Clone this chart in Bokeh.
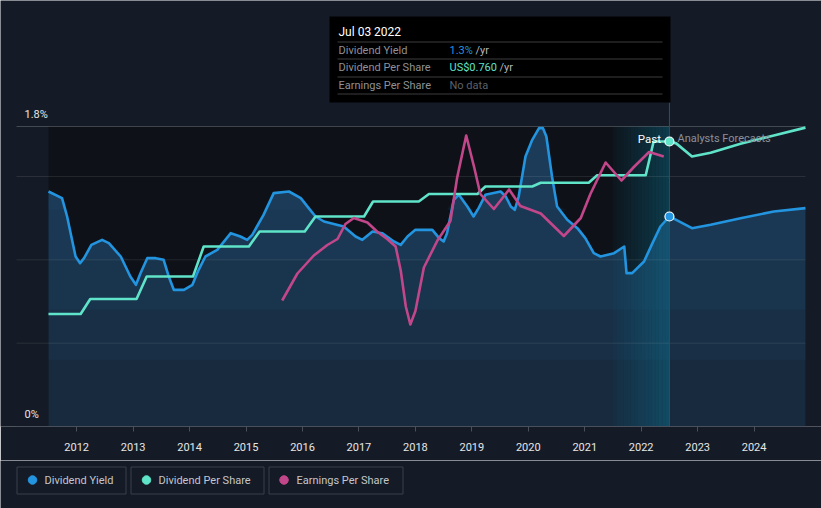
import numpy as np
from bokeh.plotting import figure
from bokeh.models import Range1d, FixedTicker, Label
from bokeh.layouts import column
from bokeh.embed import file_html
from bokeh.resources import INLINE
from bokeh.core.properties import value

# ---------------- data (decimal years) ----------------
yield_t = [2011.50, 2011.74, 2011.83, 2011.98, 2012.06, 2012.13, 2012.26, 2012.45, 2012.57, 2012.78,
           2012.95, 2013.05, 2013.13, 2013.25, 2013.40, 2013.54, 2013.63, 2013.72, 2013.90, 2014.05,
           2014.16, 2014.28, 2014.49, 2014.73, 2014.90, 2015.02, 2015.11, 2015.31, 2015.49, 2015.76,
           2015.97, 2016.11, 2016.23, 2016.38, 2016.73, 2016.94, 2017.06, 2017.24, 2017.41, 2017.62,
           2017.74, 2017.86, 2018.00, 2018.30, 2018.42, 2018.50, 2018.56, 2018.68, 2018.77, 2018.92,
           2019.03, 2019.12, 2019.24, 2019.51, 2019.60, 2019.69, 2019.76, 2019.83, 2019.95, 2020.07,
           2020.19, 2020.26, 2020.32, 2020.42, 2020.51, 2020.69, 2020.87, 2021.01, 2021.16, 2021.28,
           2021.52, 2021.70, 2021.74, 2021.84, 2022.05, 2022.20, 2022.34, 2022.50]
yield_v = [1.41, 1.37, 1.26, 1.02, 0.98, 1.01, 1.09, 1.12, 1.10, 1.02,
           0.90, 0.85, 0.92, 1.01, 1.01, 1.00, 0.90, 0.82, 0.82, 0.85,
           0.94, 1.02, 1.06, 1.16, 1.14, 1.12, 1.15, 1.27, 1.40, 1.41,
           1.37, 1.31, 1.26, 1.23, 1.20, 1.14, 1.12, 1.17, 1.16, 1.11,
           1.09, 1.14, 1.18, 1.18, 1.13, 1.11, 1.16, 1.36, 1.39, 1.32,
           1.26, 1.31, 1.39, 1.41, 1.38, 1.32, 1.30, 1.38, 1.62, 1.72,
           1.79, 1.79, 1.74, 1.50, 1.32, 1.24, 1.19, 1.13, 1.04, 1.02,
           1.04, 1.08, 0.92, 0.92, 0.99, 1.10, 1.20, 1.26]

fc_yield_t = [2022.50, 2022.62, 2022.90, 2023.23, 2023.76, 2024.35, 2024.91]
fc_yield_v = [1.26, 1.24, 1.19, 1.21, 1.25, 1.29, 1.31]

dps_t = [2011.50, 2012.07, 2012.24, 2013.06, 2013.24, 2014.06, 2014.25, 2015.05, 2015.24, 2016.04,
         2016.23, 2017.09, 2017.25, 2018.06, 2018.24, 2019.10, 2019.24, 2020.07, 2020.22, 2021.07,
         2021.22, 2022.08, 2022.22, 2022.50]
dps_v = [0.30, 0.30, 0.34, 0.34, 0.40, 0.40, 0.48, 0.48, 0.52, 0.52,
         0.56, 0.56, 0.60, 0.60, 0.62, 0.62, 0.64, 0.64, 0.65, 0.65,
         0.67, 0.67, 0.76, 0.76]

fc_dps_t = [2022.50, 2022.62, 2022.90, 2023.23, 2023.76, 2024.35, 2024.91]
fc_dps_v = [0.760, 0.755, 0.720, 0.730, 0.754, 0.776, 0.797]

eps_t = [2015.64, 2015.91, 2016.20, 2016.44, 2016.62, 2016.76, 2016.91, 2017.15, 2017.32, 2017.50,
         2017.65, 2017.74, 2017.83, 2017.91, 2018.00, 2018.15, 2018.39, 2018.62, 2018.74, 2018.90,
         2019.04, 2019.15, 2019.39, 2019.66, 2019.86, 2020.22, 2020.63, 2020.93, 2021.10, 2021.37,
         2021.65, 2021.87, 2022.14, 2022.40]
eps_v = [0.84, 1.02, 1.14, 1.21, 1.25, 1.35, 1.39, 1.36, 1.30, 1.25,
         1.20, 1.04, 0.80, 0.68, 0.77, 1.06, 1.24, 1.37, 1.66, 1.94,
         1.73, 1.55, 1.45, 1.58, 1.47, 1.42, 1.27, 1.39, 1.55, 1.76,
         1.64, 1.73, 1.83, 1.80]

year_ticks = list(range(2012, 2025))
grid_levels = [0.5, 1.0, 1.5]
top_level = 1.8
now_t = 2022.50
band_start = 2021.50

legend_labels = ["Dividend Yield", "Dividend Per Share", "Earnings Per Share"]
tooltip_title = "Jul 03 2022"
tooltip_rows = ["Dividend Yield", "Dividend Per Share", "Earnings Per Share"]
tooltip_vals = ["1.3%", "US$0.760", "No data"]

# ---------------- style ----------------
BG = "#151b26"
PAST_BG = "#0e1218"
BLUE = "#2394df"
TEAL = "#5fe3c9"
PINK = "#c2468a"
FONT = "Roboto"

W, H1, H2 = 821, 460, 48
PLOT_L, PLOT_R, FRAME_B = 16, 805, 426
PX_PER_YEAR = 56.45
PX_PER_PCT = 300 / 1.8


def px_x(x):
    return 2012 + (x - 76.2) / PX_PER_YEAR


def px_y(y):
    return (FRAME_B - y) / PX_PER_PCT


X0, X1 = px_x(0), px_x(W)
XL, XR = px_x(PLOT_L), px_x(PLOT_R)
Y1 = px_y(0)

p = figure(width=W, height=H1, x_range=Range1d(X0, X1), y_range=Range1d(0, Y1),
           output_backend="svg", toolbar_location=None, y_axis_location=None, tools="",
           min_border=0, min_border_left=0, min_border_right=0, min_border_top=0,
           min_border_bottom=H1 - FRAME_B, background_fill_color=BG, border_fill_color=BG,
           outline_line_color=None)
p.extra_y_ranges = {"dps": Range1d(0, FRAME_B / 375.0), "eps": Range1d(0, FRAME_B / 150.0)}
p.grid.visible = False

# past region
p.quad(left=[yield_t[0]], right=[now_t], bottom=[0], top=[top_level], fill_color=PAST_BG, line_color=None)

# yield area fill (past + forecast)
fill_t = np.array(yield_t + fc_yield_t[1:])
fill_v = np.array(yield_v + fc_yield_v[1:])
p.varea(x=fill_t, y1=0, y2=fill_v, fill_color="#172a3e")
for lvl in [0.4, 0.7, 1.0, 1.3]:
    p.varea(x=fill_t, y1=lvl, y2=np.maximum(fill_v, lvl), fill_color="#24507a", fill_alpha=0.15)

# highlight band (last year of past)
n = 16
edges = np.linspace(band_start, now_t, n + 1)
alphas = np.linspace(0.05, 0.38, n)
p.quad(left=edges[:-1], right=edges[1:], bottom=0, top=top_level, fill_color="#0b7fa0",
       fill_alpha=alphas, line_color=None)

# grid lines
p.segment(x0=XL, x1=XR, y0=grid_levels, y1=grid_levels, line_color="#ffffff", line_alpha=0.09, line_width=1)
p.segment(x0=XL, x1=XR, y0=[top_level], y1=[top_level], line_color="#ffffff", line_alpha=0.2, line_width=1)

# hover line
p.segment(x0=[now_t], x1=[now_t], y0=[0], y1=[px_y(102)], line_color="#1f566b", line_width=1)

# series
p.line(yield_t, yield_v, line_color=BLUE, line_width=2.6, line_join="round")
p.line(fc_yield_t, fc_yield_v, line_color=BLUE, line_width=2.6, line_join="round")
p.line(dps_t, dps_v, line_color=TEAL, line_width=2.6, line_join="round", y_range_name="dps")
p.line(fc_dps_t, fc_dps_v, line_color=TEAL, line_width=2.6, line_join="round", y_range_name="dps")
p.line(eps_t, eps_v, line_color=PINK, line_width=2.6, line_join="round", y_range_name="eps")

p.scatter([now_t], [yield_v[-1]], size=9, fill_color=BLUE, line_color="white", line_width=1.2)
p.scatter([now_t], [dps_v[-1]], size=9, fill_color=TEAL, line_color="white", line_width=1.2,
          y_range_name="dps")

# x axis
ax = p.xaxis[0]
ax.ticker = FixedTicker(ticks=year_ticks)
ax.bounds = (XL, XR)
ax.axis_line_color = "#4a505b"
ax.major_tick_line_color = "#4a505b"
ax.major_tick_out = 5
ax.major_tick_in = 0
ax.minor_tick_line_color = None
ax.major_label_standoff = 11
ax.major_label_text_font = FONT
ax.major_label_text_font_size = "11px"
ax.major_label_text_color = "#e6e6e6"

# y labels
p.add_layout(Label(x=px_x(24), y=px_y(114), text="1.8%", text_font=FONT, text_font_size="11px",
                   text_color="#e6e6e6", text_baseline="middle"))
p.add_layout(Label(x=px_x(24), y=px_y(414), text="0%", text_font=FONT, text_font_size="11px",
                   text_color="#e6e6e6", text_baseline="middle"))

# Past / forecasts
p.add_layout(Label(x=px_x(660.5), y=px_y(138), text="Past", text_font=FONT, text_font_size="11.5px",
                   text_color="#ffffff", text_baseline="middle", text_align="right"))
p.add_layout(Label(x=px_x(677), y=px_y(138), text="Analysts Forecasts", text_font=FONT,
                   text_font_size="11px", text_color="#8b909a", text_baseline="middle"))

# tooltip
p.quad(left=[px_x(329)], right=[px_x(670)], bottom=[px_y(102)], top=[px_y(16)], fill_color="#000000",
       line_color=None)
sep_y = [px_y(v) for v in (41.5, 58.5, 76.5, 93.5)]
p.segment(x0=px_x(337), x1=px_x(662), y0=sep_y, y1=sep_y, line_color="#3c3c3c", line_width=1)
p.add_layout(Label(x=px_x(338), y=px_y(31), text=tooltip_title, text_font=FONT, text_font_size="12px",
                   text_color="#ffffff", text_baseline="middle"))
row_y = [49.5, 67, 84.5]
val_colors = [BLUE, TEAL, "#5e6166"]
suffix_x = [475, 499]
for i, (lab, val) in enumerate(zip(tooltip_rows, tooltip_vals)):
    p.add_layout(Label(x=px_x(338), y=px_y(row_y[i]), text=lab, text_font=FONT, text_font_size="11px",
                       text_color="#8e9196", text_baseline="middle"))
    p.add_layout(Label(x=px_x(449), y=px_y(row_y[i]), text=val, text_font=FONT, text_font_size="11px",
                       text_color=val_colors[i], text_baseline="middle"))
    if i < 2:
        p.add_layout(Label(x=px_x(suffix_x[i]), y=px_y(row_y[i]), text="/yr", text_font=FONT,
                           text_font_size="11px", text_color="#b4b7bc", text_baseline="middle"))

# ---------------- legend strip ----------------
p2 = figure(width=W, height=H2, x_range=Range1d(0, W), y_range=Range1d(H2, 0), tools="",
            output_backend="svg", toolbar_location=None, x_axis_location=None, y_axis_location=None,
            min_border=0, background_fill_color=BG, border_fill_color=BG, outline_line_color=None)
p2.grid.visible = False
box_l = [16.5, 130.5, 268.5]
box_r = [125.5, 263.5, 402.5]
p2.quad(left=box_l, right=box_r, top=[6.5] * 3, bottom=[33.5] * 3, fill_color=None,
        line_color="#3b404b", line_width=1)
p2.scatter(x=[32, 146, 283.5], y=[19.5] * 3, size=8.5, color=[BLUE, TEAL, PINK])
p2.text(x=[44, 158, 296], y=[19.5] * 3, text=legend_labels, text_baseline="middle",
        text_font=value(FONT), text_font_size="11px", text_color="#c3c6cc")

layout = column(p, p2, spacing=0)
open("out.html", "w").write(file_html(layout, INLINE))
